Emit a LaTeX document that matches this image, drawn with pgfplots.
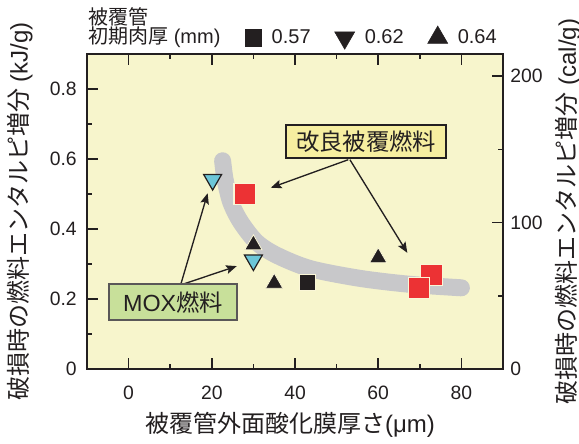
\documentclass[border=0pt]{standalone}
\usepackage{pgfplots}
\pgfplotsset{compat=1.18}
\usepackage{fontspec}
\setmainfont{Liberation Sans}
\newfontfamily\jp{Noto Sans CJK JP}
\usetikzlibrary{arrows.meta}
\definecolor{bgy}{RGB}{247,245,204}
\definecolor{curveg}{RGB}{200,200,202}
\definecolor{myred}{RGB}{236,50,52}
\definecolor{myblue}{RGB}{108,198,216}
\definecolor{myblk}{RGB}{35,31,32}
\definecolor{boxy}{RGB}{246,238,160}
\definecolor{boxg}{RGB}{200,224,154}
\definecolor{edgec}{RGB}{250,246,215}
\newcommand\tickf{\fontsize{14.5}{17}\selectfont}
\newcommand\labf{\fontsize{18}{21}\selectfont}
\newcommand\legf{\fontsize{15}{18}\selectfont}
\newcommand\titf{\fontsize{15}{18}\selectfont}
\newcommand\boxf{\fontsize{17.5}{20}\selectfont}
\begin{document}
\begin{tikzpicture}
\begin{axis}[
  name=main,
  clip mode=individual,
  scale only axis, width=312pt, height=236.25pt,
  xmin=-10, xmax=90, ymin=0, ymax=0.9,
  xtick={0,20,40,60,80}, minor x tick num=1,
  ytick={0,0.2,0.4,0.6,0.8}, minor y tick num=1,
  xtick pos=both, ytick pos=left,
  tick align=inside,
  major tick length=8pt, minor tick length=4pt,
  axis line style={line width=1.1pt, myblk},
  tick style={line width=1.1pt, myblk},
  axis background/.style={fill=bgy},
  /pgf/number format/assume math mode=true,
  ticklabel style={font=\tickf, text=myblk},
  xticklabel style={inner sep=0pt, yshift=-12.75pt},
  yticklabel style={inner sep=0pt, xshift=-7.5pt},
  xlabel={{\jp 被覆管外面酸化膜厚さ}(μm)},
  xlabel style={font=\labf, text=myblk, at={(axis description cs:0.488,-0.178)}, anchor=center},
  ylabel={{\jp 破損時の燃料エンタルピ増分} (kJ/g)},
  ylabel style={font=\labf, text=myblk, at={(axis description cs:-0.161,0.5)}, anchor=center},
  legend columns=3,
  legend cell align=left,
  legend style={draw=none, fill=none, font=\legf, text=myblk,
    at={(axis description cs:0.9887,1.052)}, anchor=east, inner sep=0pt,
    nodes={inner sep=1pt},
    /tikz/every odd column/.append style={column sep=6.5pt},
    /tikz/every even column/.append style={column sep=17pt}},
  legend image code/.code={\draw[#1] plot coordinates {(0pt,0pt)};},
]
\addlegendimage{only marks, mark=square*, mark size=6.2pt, myblk}
\addlegendentry{0.57}
\addlegendimage{only marks, mark=triangle*, mark size=8.7pt, mark options={rotate=180}, myblk}
\addlegendentry{0.62}
\addlegendimage{only marks, mark=triangle*, mark size=8.7pt, myblk}
\addlegendentry{0.64}

% gray trend band
\addplot[curveg, line width=12.75pt, line cap=round, smooth, forget plot] coordinates {
  (22.6,0.595) (23.2,0.541) (24.6,0.475) (27.0,0.419) (30.8,0.362)
  (35.6,0.325) (43.6,0.287) (55.6,0.259) (67.6,0.242) (80,0.232)};

% arrows
\draw[myblk, line width=1pt, -{Stealth[length=8pt,width=6.5pt,inset=1.5pt]}] (axis cs:52.8,0.598) -- (axis cs:34.2,0.518);
\draw[myblk, line width=1pt, -{Stealth[length=8pt,width=6.5pt,inset=1.5pt]}] (axis cs:53.2,0.598) -- (axis cs:67.0,0.332);
\draw[myblk, line width=1pt, -{Stealth[length=8pt,width=6.5pt,inset=1.5pt]}] (axis cs:12.5,0.24) -- (axis cs:19.0,0.502);
\draw[myblk, line width=1pt, -{Stealth[length=8pt,width=6.5pt,inset=1.5pt]}] (axis cs:12.5,0.24) -- (axis cs:26.0,0.294);

% MOX fuel (0.62 mm)
\addplot[only marks, mark=triangle*, mark size=7.8pt, mark options={rotate=180, fill=myblue, draw=myblk, line width=0.9pt}, forget plot]
  coordinates {(20.2,0.541) (30,0.311)};
% 0.64 mm
\addplot[only marks, mark=triangle*, mark size=7.5pt, mark options={fill=myblk, draw=edgec, line width=0.6pt}, forget plot]
  coordinates {(30,0.355) (35,0.245) (60,0.318)};
% 0.57 mm
\addplot[only marks, mark=square*, mark size=5.9pt, mark options={fill=myblk, draw=edgec, line width=0.6pt}, forget plot]
  coordinates {(42.9,0.247)};
% improved cladding fuel
\addplot[only marks, mark=square*, mark size=8pt, mark options={fill=myred, draw=edgec, line width=0.8pt}, forget plot]
  coordinates {(27.9,0.50) (72.8,0.268) (69.8,0.231)};

% boxes
\node[draw=myblk, line width=1pt, fill=boxy, font=\boxf\jp, text=myblk, minimum width=120pt, minimum height=24.75pt, inner sep=0pt] at (axis cs:57.07,0.65) {改良被覆燃料};
\node[draw=myblk!75, line width=1pt, fill=boxg, font=\boxf, text=myblk, minimum width=96pt, minimum height=27pt, inner sep=0pt] at (axis cs:10.67,0.191) {MOX{\jp 燃料}};

% legend title
\node[anchor=base west, font=\titf, text=myblk, inner sep=0pt] at ([xshift=0.75pt,yshift=7.8pt]rel axis cs:0,1) {{\jp 初期肉厚} (mm)};
\node[anchor=base west, font=\titf, text=myblk, inner sep=0pt] at ([xshift=0.75pt,yshift=22pt]rel axis cs:0,1) {{\jp 被覆管}};
\end{axis}

\begin{axis}[
  scale only axis, width=312pt, height=236.25pt,
  xmin=-10, xmax=90, ymin=0, ymax=215.105,
  axis x line=none, axis y line*=right,
  ytick={0,100,200}, minor ytick={50,150},
  tick align=inside, major tick length=8pt, minor tick length=4pt,
  axis line style={line width=1.1pt, myblk, -},
  tick style={line width=1.1pt, myblk},
  /pgf/number format/assume math mode=true,
  ticklabel style={font=\tickf, text=myblk},
  yticklabel style={inner sep=0pt, xshift=5.25pt},
  ylabel={{\jp 破損時の燃料エンタルピ増分} (cal/g)},
  ylabel style={font=\labf, text=myblk, at={(axis description cs:1.157,0.5)}, anchor=center},
]
\addplot[draw=none, mark=none] coordinates {(0,0)};
\end{axis}

\pgfresetboundingbox
\path ([shift={(-65.25pt,-55.5pt)}]main.south west) rectangle ([shift={(57pt,40.5pt)}]main.north east);
\end{tikzpicture}
\end{document}
